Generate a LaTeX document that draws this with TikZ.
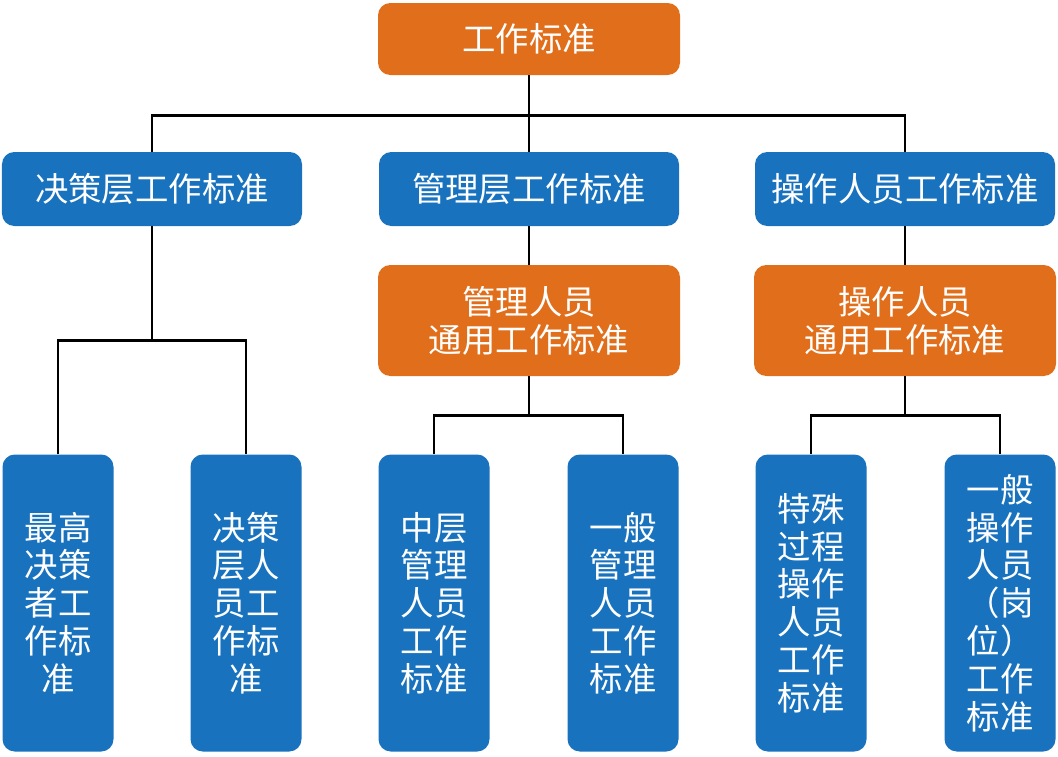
\documentclass[tikz,border=0pt]{standalone}
\usepackage{fontspec}
\newfontfamily\cjk{Noto Sans CJK SC}
\usetikzlibrary{positioning}
\definecolor{orgbox}{RGB}{224,110,26}
\definecolor{bluebox}{RGB}{24,114,190}
\tikzstyle{base}=[rectangle,rounded corners=7pt,text=white,align=center,inner sep=0pt,font=\cjk\fontsize{19}{21.5}\selectfont]
\tikzstyle{head}=[base,fill=orgbox,minimum width=6.04cm,minimum height=1.44cm]
\tikzstyle{lvl}=[base,fill=bluebox,minimum width=6.0cm,minimum height=1.48cm]
\tikzstyle{gen}=[base,fill=orgbox,minimum width=6.04cm,minimum height=2.22cm]
\tikzstyle{leaf}=[base,fill=bluebox,minimum width=2.22cm,minimum height=5.94cm]
\tikzstyle{link}=[line width=1.6pt,black]
\begin{document}
\begin{tikzpicture}
\useasboundingbox (0,0) rectangle (21.16,-15.12);
\node[head] (std) at (10.58,-0.78) {工作标准};
\node[lvl] (dec) at (3.04,-3.78) {决策层工作标准};
\node[lvl] (mgr) at (10.58,-3.78) {管理层工作标准};
\node[lvl] (opr) at (18.1,-3.78) {操作人员工作标准};
\node[gen] (mgrgen) at (10.58,-6.41) {管理人员\\通用工作标准};
\node[gen] (oprgen) at (18.1,-6.41) {操作人员\\通用工作标准};
\node[leaf] (top) at (1.16,-12.06) {最高\\决策\\者工\\作标\\准};
\node[leaf] (decp) at (4.92,-12.06) {决策\\层人\\员工\\作标\\准};
\node[leaf] (mid) at (8.68,-12.06) {中层\\管理\\人员\\工作\\标准};
\node[leaf] (genm) at (12.46,-12.06) {一般\\管理\\人员\\工作\\标准};
\node[leaf] (spec) at (16.22,-12.06) {特殊\\过程\\操作\\人员\\工作\\标准};
\node[leaf] (geno) at (20.0,-12.06) {一般\\操作\\人员\\（岗\\位）\\工作\\标准};
% top level
\draw[link] (std.south) -- ++(0,-0.8) coordinate (b1);
\draw[link] (b1) -| (dec.north);
\draw[link] (b1) -| (opr.north);
\draw[link] (b1) -- (mgr.north);
% decision branch
\draw[link] (dec.south) -- ++(0,-2.28) coordinate (b2);
\draw[link] (b2) -| (top.north);
\draw[link] (b2) -| (decp.north);
% management branch
\draw[link] (mgr) -- (mgrgen);
\draw[link] (mgrgen.south) -- ++(0,-0.78) coordinate (b3);
\draw[link] (b3) -| (mid.north);
\draw[link] (b3) -| (genm.north);
% operator branch
\draw[link] (opr) -- (oprgen);
\draw[link] (oprgen.south) -- ++(0,-0.78) coordinate (b4);
\draw[link] (b4) -| (spec.north);
\draw[link] (b4) -| (geno.north);
\end{tikzpicture}
\end{document}
